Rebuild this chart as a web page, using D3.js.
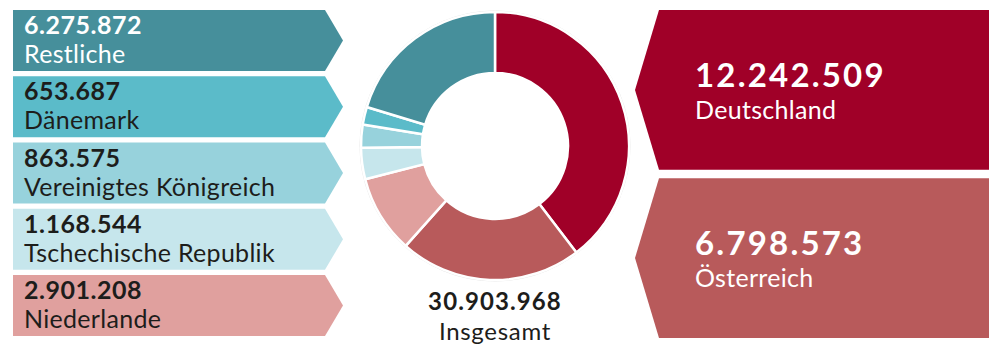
<!DOCTYPE html>
<html>
<head>
<meta charset="utf-8">
<script src="https://cdn.jsdelivr.net/npm/d3@7"></script>
<style>
  body { margin: 0; background: #fff; }
  svg { display: block; font-family: Lato, "Open Sans", sans-serif; }
</style>
</head>
<body>
<svg width="992" height="347"></svg>
<script>
var countries = ["Deutschland", "Österreich", "Niederlande", "Tschechische Republik", "Vereinigtes Königreich", "Dänemark", "Restliche"];
var values = [12242509, 6798573, 2901208, 1168544, 863575, 653687, 6275872];
var colors = ["#a00028", "#b85a5b", "#e0a09e", "#c6e6ec", "#97d2dc", "#5bbbc9", "#468f9b"];
var totalLabel = "Insgesamt";

var svg = d3.select("svg");
var fmt = d3.formatLocale({decimal: ",", thousands: ".", grouping: [3], currency: ["", "€"]}).format(",d");

var data = countries.map(function(c, i) { return {name: c, value: values[i], color: colors[i]}; });
var total = d3.sum(values);

// right side: the two big ones, left side: the rest, bottom-up
var right = data.slice(0, 2);
var left = data.slice(2).reverse();

// donut
var cx = 495, cy = 146;
var pie = d3.pie().sort(null).value(function(d) { return d.value; });
var arc = d3.arc().innerRadius(73).outerRadius(134);
var donut = svg.append("g").attr("transform", "translate(" + cx + "," + cy + ")");

donut.append("circle")
    .attr("r", 135)
    .attr("fill", "none")
    .attr("stroke", "#e2e2e2")
    .attr("stroke-width", 1);

donut.selectAll("path")
  .data(pie(data))
  .enter().append("path")
    .attr("d", arc)
    .attr("fill", function(d) { return d.data.color; })
    .attr("stroke", "#fff")
    .attr("stroke-width", 2.5);

svg.append("text")
    .attr("x", cx).attr("y", 310)
    .attr("text-anchor", "middle")
    .attr("font-size", 24).attr("font-weight", 700)
    .attr("letter-spacing", 1.1)
    .attr("fill", "#1d1d1b")
    .text(fmt(total));

svg.append("text")
    .attr("x", cx).attr("y", 340)
    .attr("text-anchor", "middle")
    .attr("font-size", 24)
    .attr("letter-spacing", 0.7)
    .attr("fill", "#1d1d1b")
    .text(totalLabel);

// left arrow boxes
var yl = d3.scaleBand().domain(left.map(function(d) { return d.name; })).range([10, 336]).paddingInner(0.08);
var lx0 = 13, lx1 = 325, ltip = 343;

var lg = svg.selectAll(".lbox")
  .data(left)
  .enter().append("g")
    .attr("class", "lbox")
    .attr("transform", function(d) { return "translate(0," + yl(d.name) + ")"; });

lg.append("path")
    .attr("d", function() {
      var h = yl.bandwidth();
      return "M" + lx0 + ",0H" + lx1 + "L" + ltip + "," + (h / 2) + "L" + lx1 + "," + h + "H" + lx0 + "Z";
    })
    .attr("fill", function(d) { return d.color; });

lg.append("text")
    .attr("x", 24).attr("y", 24)
    .attr("font-size", 25).attr("font-weight", 700)
    .attr("letter-spacing", 0.5)
    .attr("fill", function(d) { return d.name === "Restliche" ? "#fff" : "#1d1d1b"; })
    .text(function(d) { return fmt(d.value); });

lg.append("text")
    .attr("x", 24).attr("y", 53)
    .attr("font-size", 25)
    .attr("letter-spacing", 0.3)
    .attr("fill", function(d) { return d.name === "Restliche" ? "#fff" : "#1d1d1b"; })
    .text(function(d) { return d.name; });

// right arrow boxes
var yr = d3.scaleBand().domain(right.map(function(d) { return d.name; })).range([10, 338]).paddingInner(0.05);
var rx0 = 659, rx1 = 989, rtip = 635;

var rg = svg.selectAll(".rbox")
  .data(right)
  .enter().append("g")
    .attr("class", "rbox")
    .attr("transform", function(d) { return "translate(0," + yr(d.name) + ")"; });

rg.append("path")
    .attr("d", function() {
      var h = yr.bandwidth();
      return "M" + rx0 + ",0H" + rx1 + "V" + h + "H" + rx0 + "L" + rtip + "," + (h / 2) + "Z";
    })
    .attr("fill", function(d) { return d.color; });

rg.append("text")
    .attr("x", 695).attr("y", 77)
    .attr("font-size", 33).attr("font-weight", 700)
    .attr("letter-spacing", 2.2)
    .attr("fill", "#fff")
    .text(function(d) { return fmt(d.value); });

rg.append("text")
    .attr("x", 695).attr("y", 109)
    .attr("font-size", 25)
    .attr("letter-spacing", 0.3)
    .attr("fill", "#fff")
    .text(function(d) { return d.name; });
</script>
</body>
</html>
